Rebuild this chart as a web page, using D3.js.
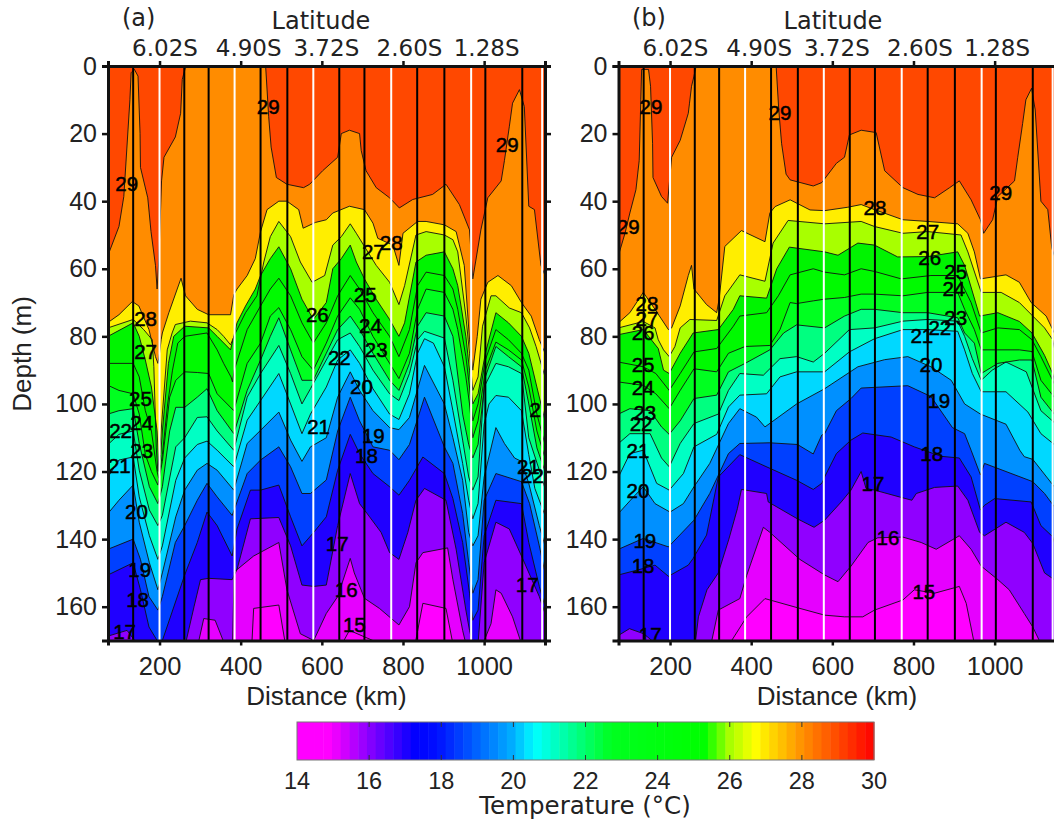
<!DOCTYPE html>
<html>
<head>
<meta charset="utf-8">
<script src="https://cdn.jsdelivr.net/npm/d3@7"></script>
<style>
  html, body { margin: 0; padding: 0; background: #fff; overflow: hidden; }
  svg { display: block; }
  .sans text, text.sans { font-family: "Liberation Sans", Arial, sans-serif; fill: #222; }
  text.dj, .dj text { font-family: "DejaVu Sans", Verdana, sans-serif; fill: #222; }
</style>
</head>
<body>
<div id="chart"></div>
<script>
// stations along the section (km)
var blackStations = [135, 261, 321, 449, 515, 643, 705, 835, 902, 1003, 1094];
var whiteStations = [200, 385, 579, 771, 968, 1143];

var depthTicks = [0, 20, 40, 60, 80, 100, 120, 140, 160];
var distanceTicks = [200, 400, 600, 800, 1000];
var latitudeLabels = ["6.02S", "4.90S", "3.72S", "2.60S", "1.28S"];

var isotherms = [29, 28, 27, 26, 25, 24, 23, 22, 21, 20, 19, 18, 17, 16, 15];
// first colour is the water above 29, then one per isotherm for the band below it
var bandColors = ["#ff4800", "#ff8c00", "#ffee00", "#a8ff00", "#00f400", "#00fa00", "#00ff20", "#00ff80",
  "#00ffc4", "#00d8ff", "#0090ff", "#0040ff", "#2000ff", "#9000ff", "#e600ff", "#ff00ff"];

var colorbarTicks = [14, 16, 18, 20, 22, 24, 26, 28, 30];
var colorbarStops = [14, 14.9, 16, 17.3, 17.9, 20, 20.6, 22.7, 25.3, 26, 26.7, 28, 30];
var colorbarColors = ["#ff00ff", "#ff00ff", "#8800ff", "#0000ff", "#0010ff", "#00b0ff", "#00ffff", "#00ff20", "#00ff00", "#a8ff00", "#ffff00", "#ff9000", "#ff0000"];

// panel (a): isotherm depth (m) read at distance (km)
var a29 = [[73,56],[100,47.5],[112,38.6],[127,10],[130,2],[138,1],[147,3],[152,20],[153,30],[171,39],[179,49],[190,59],[194,66],[198,58],[205,34],[211,27],[239,21],[252,14],[256,4],[267,-1],[461,-1],[469,15],[475,24],[488,33],[514,35],[555,36],[570,35],[602,31],[639,27],[648,20],[668,19],[693,20],[697,25],[709,31],[734,36],[767,39],[791,42],[824,39.5],[873,38],[906,35],[939,41],[964,48.5],[972,63],[992,48.5],[1009,39],[1042,34],[1050,28],[1062,18],[1070,11],[1087,7],[1099,12],[1110,41.5],[1124,42.5],[1140,59],[1150,62]];
var a28 = [[73,75.9],[100,73.6],[133,69.7],[149,71],[174,78],[182,82],[190,86],[196,88],[200,85],[204,81],[207,79],[223,73],[253,62.8],[264,68],[293,72],[321,73.6],[375,73.6],[383,67.7],[391,66],[416,62],[436,57],[449,49],[465,42.5],[494,40],[514,40],[543,42.5],[554,48],[584,46.3],[611,45.5],[627,43.5],[668,41.5],[705,42.5],[726,46.5],[738,51],[775,53],[790,59],[800,49.5],[836,46],[857,46],[902,47],[931,49],[951,59],[964,81],[972,90],[983,80],[992,69],[1009,64],[1034,62],[1067,65],[1092,70],[1116,74],[1136,81],[1150,85]];
var a27 = [[73,77.5],[135,75],[161,78],[182,81],[186,89],[192,113],[196,120],[201,113],[207,103],[219,84],[231,79],[239,76.5],[276,75.5],[317,76],[342,78],[358,80],[375,82.5],[387,79],[412,73],[440,68],[457,58],[473,50.5],[494,46],[523,50.5],[547,58],[576,64],[607,62],[627,53],[648,50.5],[670,46.7],[685,49.5],[705,53.4],[734,59],[767,64],[790,70.6],[804,65],[832,50],[857,49],[902,50],[923,51.4],[935,55],[955,74],[964,85],[972,96],[985,92],[996,77],[1017,68],[1029,68],[1062,71.6],[1092,73],[1112,77.5],[1128,83],[1150,92]];
var a26 = [[73,80],[135,76],[150,80],[165,87],[180,95],[194,108],[198,118],[203,115],[207,108],[222,88],[235,80],[262,77],[321,77.5],[342,80],[375,84],[391,76],[412,71],[436,66],[449,62],[473,57],[494,53.5],[523,60],[551,69],[579,75],[611,70],[627,60],[648,57],[670,53],[685,58],[705,63],[734,69],[767,75],[790,80],[804,76],[832,58],[857,56],[902,55],[923,60],[935,65],[955,80],[964,90],[972,100],[985,97],[1003,85],[1029,73],[1060,76],[1092,80],[1110,85],[1130,95],[1150,105]];
var a25 = [[73,88],[135,88],[150,92],[165,102],[180,108],[194,120],[198,122],[207,115],[220,100],[232,90],[245,82],[262,80],[317,79],[342,84],[358,88],[376,92],[380,93.5],[384,90],[416,78],[449,71],[473,66],[494,62.8],[523,68],[551,76],[579,82],[611,76],[639,68],[670,62],[693,66],[726,73],[767,80],[790,86],[816,78],[836,65],[857,61],[902,62],[923,66],[935,72],[955,86],[964,95],[972,105],[985,100],[1003,87],[1029,78],[1060,81],[1092,85],[1110,90],[1130,103],[1150,112]];
var a24 = [[73,94.5],[100,96],[135,97],[150,103],[165,115],[180,120],[196,124],[207,117],[225,98],[240,93],[262,90.5],[293,90.7],[321,91],[342,97],[383,102],[416,88],[449,82],[473,74],[494,71.5],[523,78],[551,86],[579,90],[611,82],[639,74],[670,68.6],[693,72],[726,80],[767,88],[790,92.5],[816,85],[836,72],[857,66],[902,67],[923,72],[935,78],[955,92],[964,100],[972,110],[985,105],[1003,90],[1029,81.7],[1060,84],[1092,87],[1110,95],[1130,108],[1150,116]];
var a23 = [[73,103],[100,102],[135,101.4],[150,111.7],[175,124.5],[196,129.5],[207,124.5],[225,108],[240,101],[262,101],[293,98],[317,95.5],[342,102],[383,108.8],[416,96],[449,87],[473,80],[494,74.5],[523,84],[551,93],[579,93],[611,85],[639,78],[670,74],[693,78],[726,85],[767,93],[790,96],[816,88],[836,77],[857,73],[902,74],[923,80],[947,103],[962,112],[972,116],[985,112],[1003,92],[1029,83],[1060,86],[1092,89],[1110,100],[1130,113],[1150,120]];
var a22 = [[73,112],[100,109],[135,108],[150,119.6],[175,131.4],[196,136],[207,133],[240,112.7],[262,110],[293,104],[317,103.8],[342,108],[383,113.7],[416,98],[449,91],[494,82.7],[523,91],[551,100],[572,95.5],[611,87],[639,81],[670,79],[693,83],[726,90],[767,97],[790,99],[816,91],[836,81],[853,78.5],[902,80.5],[923,93],[947,110.7],[962,121.6],[972,125.5],[985,121.6],[1000,95],[1029,88],[1060,89],[1092,91],[1110,110],[1136,119.6],[1150,125]];
var a21 = [[73,121.6],[100,116.6],[135,115.7],[150,127.5],[175,139],[196,146],[207,142],[240,122.6],[262,116],[293,112],[317,111],[342,113.7],[383,118.6],[416,104.8],[449,99],[494,91],[523,100],[551,108.8],[572,103],[611,95],[639,87],[670,84],[693,88],[726,95.5],[767,103],[790,104.6],[816,97],[836,85],[853,80.7],[875,82],[902,89],[923,102],[947,117.6],[962,128.5],[972,134],[985,129.5],[1000,106],[1012,100],[1029,97.5],[1060,98],[1092,102],[1110,115],[1125,125],[1150,133]];
var a20 = [[73,132.4],[100,128.5],[135,124],[150,135],[175,147],[196,155],[207,150],[240,133.4],[262,125.5],[293,119.6],[317,117.6],[342,119.6],[383,125.5],[416,111.7],[449,107.8],[494,102.4],[523,110.7],[551,117],[572,112.7],[611,110],[639,98],[670,90.5],[693,96],[726,102],[767,107],[790,107.6],[816,104],[853,88.6],[902,100],[923,110],[947,122.6],[962,138],[972,142],[985,139],[1000,121.6],[1029,107],[1050,111.7],[1075,116],[1092,117],[1110,123.5],[1136,136],[1150,142]];
var a19 = [[73,143],[135,140],[153,146],[174,157],[196,161],[207,157],[239,141],[262,136],[293,128.5],[317,123.5],[342,127.5],[379,133],[416,120.6],[449,116.6],[494,112.7],[523,118.6],[551,126.5],[572,126.5],[611,122.5],[639,108],[670,98],[693,105],[726,112.7],[767,113.7],[790,116.5],[816,112],[853,98],[902,112.7],[923,117.6],[947,132.4],[962,147],[972,156],[985,152],[1000,128.5],[1029,120.6],[1092,123],[1112,129.5],[1136,142],[1150,150]];
var a18 = [[73,150.6],[135,147],[153,155],[174,166],[194,170],[207,170],[262,150.6],[293,141],[317,132],[342,136],[379,145],[391,137],[424,125.5],[449,125.5],[494,124],[523,133.4],[551,142],[580,138],[611,133.4],[639,119.6],[670,109],[693,114.7],[726,120.6],[767,124.5],[790,127],[816,122.6],[849,115.7],[902,120.6],[923,128],[947,141],[964,156],[972,164],[985,161],[1000,139],[1029,128.5],[1092,129.5],[1110,141],[1136,154],[1150,160]];
var a17 = [[73,168.7],[120,167],[145,171],[264,171],[285,160],[301,152],[321,151.6],[379,152],[391,149],[424,134],[494,133.6],[523,142],[551,153.6],[580,154],[611,153.6],[639,136],[670,120.6],[693,129.5],[709,132],[746,138],[767,144],[790,146],[812,138],[832,128.5],[853,125],[906,128.5],[931,143],[955,161],[964,167],[972,171],[985,171],[1000,147],[1029,135],[1062,137],[1092,145],[1136,157],[1150,162]];
var a16 = [[73,175],[290,175],[297,170],[309,163.5],[337,164],[360,171],[380,171],[384,149.7],[432,145],[494,141],[514,155],[547,168],[580,170],[611,162],[639,157],[670,145.7],[680,150],[705,157.5],[742,160.5],[790,165.4],[816,160],[832,147],[849,144],[910,142.6],[923,152],[947,167],[955,171],[997,171],[1017,165],[1029,155],[1042,156],[1070,163],[1092,171],[1150,175]];
var a15 = [[73,175],[426,175],[428,170],[432,160.5],[494,159.5],[510,171],[650,171],[668,167],[745,171],[830,171],[849,159],[906,160.5],[923,171],[1150,175]];

// panel (b)
var b29 = [[73,56],[89,49.5],[101,43.5],[116,36.6],[124,28],[128,10],[130,1],[147,1],[152,6],[157,23],[158,33],[179,38.6],[194,40.6],[198,35],[204,27],[225,22],[245,14],[248,11],[253,6],[259,3],[266,-1],[461,-1],[468,13],[475,23],[486,32],[496,33.7],[553,35.5],[574,34.5],[610,28.8],[630,27],[642,20.4],[671,19],[708,19.7],[729,31],[774,36],[811,38],[852,39],[889,36],[913,34],[942,39.6],[965,45.5],[973,49.5],[995,45.5],[1008,38.6],[1049,34],[1057,27],[1069,17],[1077,10],[1091,6.6],[1100,13],[1114,40],[1131,42.5],[1141,54],[1150,57]];
var b28 = [[73,76],[101,73],[134,67],[163,72],[196,78],[204,77.5],[225,71],[245,62],[253,59],[259,66],[290,70.6],[315,73],[321,69],[335,53.4],[376,48.7],[434,52],[446,43.5],[459,41.6],[496,39.6],[545,42.6],[581,42.8],[638,41.8],[671,41],[704,42.5],[774,45.5],[835,46],[909,46.7],[934,49.5],[950,55],[965,63],[1028,61.8],[1061,64],[1090,70],[1127,74],[1147,79],[1150,80]];
var b27 = [[73,77.5],[134,75.6],[163,77.5],[171,81],[184,84],[198,86],[212,83],[225,77.5],[249,75],[315,75.3],[335,68],[372,61.8],[434,63.7],[454,52.4],[491,45.7],[581,46.7],[671,46],[704,47.5],[774,49.5],[835,49],[917,50],[934,55],[967,67],[1016,67],[1061,70],[1090,73.5],[1123,77.5],[1143,81],[1150,85]];
var b26 = [[73,79.5],[134,78],[171,83.6],[184,90],[198,91],[225,85],[257,79],[319,78],[356,72],[372,68],[438,68.7],[463,60],[494,53.6],[581,55],[614,56],[663,52.4],[704,53],[761,56.5],[835,56.4],[909,55],[926,59],[963,74],[1008,73],[1061,75.6],[1092,79],[1123,85.6],[1143,91],[1150,94]];
var b25 = [[73,87.6],[134,89],[165,91],[198,96],[225,91],[259,84.6],[315,83.6],[356,77],[372,74],[438,73],[467,68],[496,61.8],[553,60],[581,61],[630,61.8],[671,60],[704,60.8],[770,63],[843,62],[909,62],[942,70],[967,79],[1008,77.5],[1061,78],[1092,81],[1114,86],[1147,94],[1150,95]];
var b24 = [[73,93.5],[134,94.5],[165,97],[198,101.4],[225,96],[259,89.6],[315,90.5],[344,85],[385,83],[446,82.7],[471,78],[496,70],[512,70.3],[553,69.5],[581,69],[630,68.5],[671,67.5],[704,67.5],[774,68],[835,67],[909,67],[926,72],[950,78],[967,84],[1008,84],[1061,84],[1092,84.5],[1114,93],[1147,98],[1150,99]];
var b23 = [[73,103],[101,101.4],[151,102],[179,106.8],[198,109],[225,105],[259,98.4],[315,97.4],[344,90.5],[385,88],[446,84],[480,79],[512,76.6],[581,77.5],[630,74],[671,72],[704,72],[774,73],[835,73],[909,74.5],[926,79],[950,82],[967,91],[1008,88],[1061,87],[1092,87],[1114,98],[1147,103],[1150,104]];
var b22 = [[73,111.7],[101,108.8],[151,108.8],[179,116],[198,118.6],[225,111.7],[259,105.8],[319,103],[344,96],[372,91],[430,91.5],[471,86.6],[512,86],[553,87.6],[581,85],[642,78],[704,77.5],[774,75.5],[835,75],[909,75.5],[926,80],[945,86.6],[967,93],[994,90],[1028,87.6],[1078,90.5],[1114,102],[1147,105.5],[1150,106]];
var b21 = [[73,121.6],[101,114.7],[134,113.7],[167,123.5],[198,125.5],[233,120.6],[259,112.7],[315,109],[344,100.9],[372,97.4],[438,97],[471,92],[512,90.5],[581,90.5],[642,84.6],[704,80.7],[774,78],[835,78],[909,78.5],[926,84],[945,91],[967,96.4],[1028,96.4],[1082,102.4],[1114,108.8],[1147,112],[1150,113]];
var b20 = [[73,132.4],[110,127.5],[134,124.5],[163,129.5],[200,132],[233,129.5],[259,124.5],[298,117.6],[344,105.8],[372,101.4],[413,103.9],[434,106.8],[512,100],[581,95.5],[663,89],[729,86.9],[786,86],[843,89],[893,93],[926,100],[965,103],[1028,106],[1062,113.7],[1073,115.6],[1094,116.4],[1147,124.5],[1150,125]];
var b19 = [[73,143],[134,139.8],[196,142.3],[259,134.4],[298,126.5],[344,114.7],[372,111.7],[446,111.5],[514,112],[553,114.8],[574,109.2],[581,108.8],[610,102],[646,98.4],[671,95.3],[786,94.6],[843,97.8],[896,107],[926,108.8],[942,113.7],[965,121],[975,117.6],[1094,123],[1123,126.5],[1147,130.4],[1150,131]];
var b18 = [[73,150.6],[134,148.7],[163,147.7],[196,151],[245,147.7],[257,145.7],[290,138.8],[319,121.6],[372,115],[434,118.4],[512,122.6],[553,125.3],[574,123.5],[581,121.6],[610,114.7],[646,110.7],[675,108.6],[745,109.8],[802,112.7],[868,115.5],[913,116],[942,121.6],[965,131.4],[975,130],[1000,128],[1090,129],[1114,136],[1143,139.3],[1150,142]];
var b17 = [[73,168.5],[100,166.5],[135,168],[165,171],[262,171],[270,163],[291,155],[319,150],[345,140],[366,131],[376,125.3],[438,126.5],[442,129],[514,134],[555,136.5],[581,134.4],[622,129],[646,125.5],[671,120],[683,125],[704,125.5],[765,127.5],[796,128.5],[807,126.5],[852,124.7],[909,124.3],[934,128.5],[963,138],[975,139],[1028,135],[1073,138],[1094,141.3],[1123,150],[1147,152],[1150,153]];
var b16 = [[73,175],[300,175],[303,170],[319,161],[372,157.6],[389,150.7],[430,136.5],[446,138],[520,146],[581,150.6],[614,152.6],[646,148],[688,141],[712,139.6],[774,139.4],[819,141],[856,143],[913,139],[942,143],[967,148],[1008,152],[1036,155],[1073,162],[1094,166],[1114,171],[1150,175]];
var b15 = [[73,175],[350,175],[352,170],[389,163],[434,157.6],[520,160.5],[581,162.5],[630,163],[675,163],[704,161],[774,158],[802,155],[852,156],[913,154],[930,159],[950,171],[1150,175]];

var panelA = [a29, a28, a27, a26, a25, a24, a23, a22, a21, a20, a19, a18, a17, a16, a15];
var panelB = [b29, b28, b27, b26, b25, b24, b23, b22, b21, b20, b19, b18, b17, b16, b15];

// contour labels: [text, km, depth]
var labelsA = [["29",468,12],["29",1057,23.4],["29",119,35],["28",165.5,75],["27",165.5,84.6],["25",153,98.5],["24",156,105.6],["23",156,114],["22",104,108],["21",101,118.3],["20",143,132],["19",151,149],["18",146,158],["17",114,167.5],["26",589,73.7],["27",727,55],["28",771,52.4],["25",707,67.8],["24",720,77],["23",734,84],["22",643,86.4],["20",697.5,95],["21",592,106.8],["19",727,109.5],["18",710,115.4],["17",638,141.4],["16",660,155],["15",680,165.4],["2",1126,101.8],["21",1109,118.6],["22",1119,121.3],["17",1106,153.6]];
var labelsB = [["29",153,12],["29",471,14],["29",1015,37.6],["29",97,47.6],["28",705,42],["27",835,49],["26",840,56.8],["25",904,61],["24",899.5,66],["23",904,74.6],["22",865,77.5],["21",820.7,80],["20",843,88.5],["19",862.6,99],["18",845,114.8],["17",700,123.7],["16",737,139.6],["15",825.6,155.6],["28",143,70.4],["27",143,75],["26",133.5,79],["25",133.5,88.5],["24",133.5,95.3],["23",138,102.7],["22",128.6,106],["21",121,113.9],["20",121,125.7],["19",138,140.5],["18",133.5,148],["17",151,168.3]];

var svg = d3.select("#chart").append("svg").attr("width", 1054).attr("height", 824);

var plotTop = 66, plotBottom = 640.5;
var yScale = d3.scaleLinear().domain([0, 170]).range([plotTop, plotBottom]);

function drawPanel(id, left, right, lines, labels, title, titleX, latTitleX, distX) {
  var xScale = d3.scaleLinear().domain([73, 1150]).range([left, right]);

  svg.append("clipPath").attr("id", "clip" + id)
    .append("rect").attr("x", left).attr("y", plotTop)
    .attr("width", right - left).attr("height", plotBottom - plotTop);

  var plot = svg.append("g").attr("clip-path", "url(#clip" + id + ")");

  plot.append("rect").attr("x", left).attr("y", plotTop)
    .attr("width", right - left).attr("height", plotBottom - plotTop)
    .attr("fill", bandColors[0]);

  var area = d3.area().x(d => xScale(d[0])).y0(d => yScale(d[1])).y1(plotBottom);
  var line = d3.line().x(d => xScale(d[0])).y(d => yScale(d[1]));

  // painted from warm to cold, each band runs down to the bottom of the section
  lines.forEach(function(pts, i) {
    var sorted = pts.slice().sort((p, q) => p[0] - q[0]);
    plot.append("path").attr("d", area(sorted)).attr("fill", bandColors[i + 1]);
  });
  lines.forEach(function(pts) {
    var sorted = pts.slice().sort((p, q) => p[0] - q[0]);
    plot.append("path").attr("d", line(sorted)).attr("fill", "none")
      .attr("stroke", "#111").attr("stroke-width", 0.9);
  });

  plot.selectAll("line.white").data(whiteStations).enter().append("line")
    .attr("x1", d => xScale(d)).attr("x2", d => xScale(d))
    .attr("y1", plotTop).attr("y2", plotBottom)
    .attr("stroke", "#fff").attr("stroke-width", 2);
  plot.selectAll("line.black").data(blackStations).enter().append("line")
    .attr("x1", d => xScale(d)).attr("x2", d => xScale(d))
    .attr("y1", plotTop).attr("y2", plotBottom)
    .attr("stroke", "#000").attr("stroke-width", 2);

  // contour labels
  plot.selectAll("text").data(labels).enter().append("text")
    .attr("x", d => xScale(d[1])).attr("y", d => yScale(d[2]) + 7)
    .attr("text-anchor", "middle")
    .attr("font-family", "Liberation Sans, Arial, sans-serif")
    .attr("font-size", 20.5).attr("fill", "#000")
    .attr("stroke", "#000").attr("stroke-width", 0.5)
    .text(d => d[0]);

  // axes
  var leftAxis = svg.append("g").attr("class", "sans").attr("transform", "translate(" + left + ",0)")
    .call(d3.axisLeft(yScale).tickValues(depthTicks).tickSize(6).tickPadding(5));
  var rightAxis = svg.append("g").attr("transform", "translate(" + right + ",0)")
    .call(d3.axisRight(yScale).tickValues(depthTicks).tickSize(6).tickFormat(""));
  var bottomAxis = svg.append("g").attr("class", "sans").attr("transform", "translate(0," + plotBottom + ")")
    .call(d3.axisBottom(xScale).tickValues(distanceTicks).tickSize(5).tickPadding(11).tickFormat(d3.format("d")));
  var topAxis = svg.append("g").attr("class", "dj").attr("transform", "translate(0," + plotTop + ")")
    .call(d3.axisTop(xScale).tickValues(distanceTicks).tickSize(5).tickPadding(5)
      .tickFormat((d, i) => latitudeLabels[i]));

  [leftAxis, rightAxis, bottomAxis, topAxis].forEach(function(ax) {
    ax.selectAll(".domain").attr("stroke", "#111").attr("stroke-width", 3);
    ax.selectAll(".tick line").attr("stroke", "#111").attr("stroke-width", 2.5);
    ax.selectAll("text").attr("fill", "#222");
  });
  leftAxis.selectAll("text").attr("font-size", 25);
  bottomAxis.selectAll("text").attr("font-size", 25.5);
  // the latitude labels sit a little right of their ticks in the figure
  var latNudge = [5, 7.5, 4, 6, 2];
  topAxis.selectAll("text").attr("font-size", 23).attr("dx", (d, i) => latNudge[i]);

  svg.append("text").attr("class", "dj").attr("x", titleX).attr("y", 26)
    .attr("font-size", 24).text(title);
  svg.append("text").attr("class", "dj").attr("x", latTitleX).attr("y", 29)
    .attr("text-anchor", "middle").attr("font-size", 24).text("Latitude");
  svg.append("text").attr("class", "sans").attr("x", distX).attr("y", 705)
    .attr("text-anchor", "middle").attr("font-size", 26).text("Distance (km)");
}

drawPanel("A", 108, 545, panelA, labelsA, "(a)", 122, 321, 326.5);
drawPanel("B", 618.5, 1055.5, panelB, labelsB, "(b)", 632, 833, 837);

svg.append("text").attr("class", "sans")
  .attr("transform", "translate(31,354) rotate(-90)")
  .attr("text-anchor", "middle").attr("font-size", 26).text("Depth (m)");

// colour bar
var barScale = d3.scaleLinear().domain([14, 30]).range([297, 874]);
var barColor = d3.scaleLinear().domain(colorbarStops).range(colorbarColors);
var barCells = d3.range(0, 66);
var barTop = 722, barBottom = 760;
var cellWidth = 16 / barCells.length;

svg.selectAll("rect.cell").data(barCells).enter().append("rect")
  .attr("x", d => barScale(14 + d * cellWidth))
  .attr("y", barTop)
  .attr("width", barScale(14 + cellWidth) - barScale(14) + 0.5)
  .attr("height", barBottom - barTop)
  .attr("fill", d => barColor(14 + (d + 0.5) * cellWidth));

svg.append("rect").attr("x", barScale(14)).attr("y", barTop)
  .attr("width", barScale(30) - barScale(14)).attr("height", barBottom - barTop)
  .attr("fill", "none").attr("stroke", "#777").attr("stroke-width", 1);

svg.selectAll("line.bt").data(colorbarTicks.slice(1, -1)).enter().append("line")
  .attr("x1", d => barScale(d)).attr("x2", d => barScale(d))
  .attr("y1", barTop).attr("y2", barTop + 5).attr("stroke", "#333");
svg.selectAll("line.bb").data(colorbarTicks.slice(1, -1)).enter().append("line")
  .attr("x1", d => barScale(d)).attr("x2", d => barScale(d))
  .attr("y1", barBottom - 5).attr("y2", barBottom).attr("stroke", "#333");

svg.selectAll("text.bar").data(colorbarTicks).enter().append("text")
  .attr("class", "sans").attr("x", d => barScale(d)).attr("y", 789)
  .attr("text-anchor", "middle").attr("font-size", 23.5).text(d => d);

svg.append("text").attr("class", "dj").attr("x", 585).attr("y", 814)
  .attr("text-anchor", "middle").attr("font-size", 24.5).text("Temperature (°C)");
</script>
</body>
</html>
